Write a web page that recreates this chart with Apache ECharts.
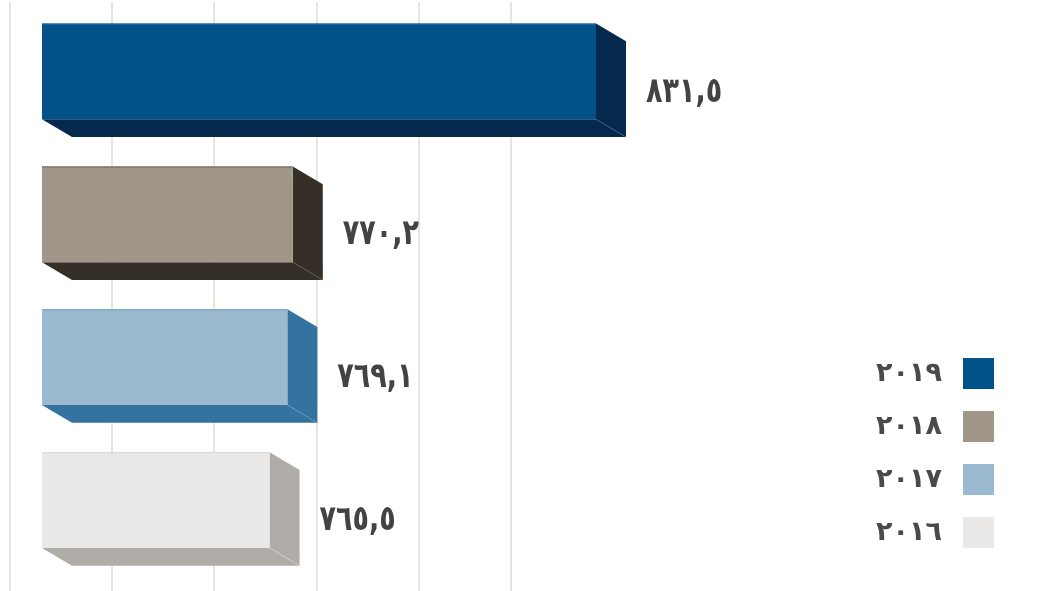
<!DOCTYPE html>
<html>
<head>
<meta charset="utf-8">
<script src="https://cdn.jsdelivr.net/npm/echarts@6/dist/echarts.min.js"></script>
<style>
html,body{margin:0;padding:0;background:#ffffff;}
#chart{width:1044px;height:591px;}
</style>
</head>
<body>
<div id="chart"></div>
<script>
// ---- data ----
const years = ['٢٠١٩', '٢٠١٨', '٢٠١٧', '٢٠١٦'];
const values = [831.5, 770.2, 769.1, 765.5];
const gridTicks = { min: 710, max: 808, interval: 20 };   // back-wall gridlines (no labels shown)
const barBase = 719.5;                                     // where the bars start

// ---- styles ----
const frontColors = ['#025188', '#a09788', '#9bbacf', '#eae9e7'];
const sideColors  = ['#04294d', '#352f27', '#34739f', '#b0ada8'];
const edgeColors  = ['#2f6f9f', '#6a6258', '#6c9cc0', '#d8d6d2'];
const DX = 30, DY = 17.7;

function toArabicDigits(v) {
  const d = '٠١٢٣٤٥٦٧٨٩';
  return v.toFixed(1).replace(/[0-9]/g, c => d[+c]).replace('.', ',');
}

const chart = echarts.init(document.getElementById('chart'), null, {renderer: 'canvas'});

function makeRender(i) {
  return function (params, api) {
    const v = api.value(0), c = api.value(1);
    const p0 = api.coord([barBase, c]);
    const p1 = api.coord([v, c]);
    const band = api.size([0, 1])[1];
    const h = band * 0.67;
    const y0 = p0[1] - h / 2, y1 = p0[1] + h / 2;
    const x0 = p0[0], x1 = p1[0];
    return {
      type: 'group',
      children: [
        {type: 'polygon', shape: {points: [[x0, y1], [x1, y1], [x1 + DX, y1 + DY], [x0 + DX, y1 + DY]]}, style: {fill: sideColors[i]}},
        {type: 'polygon', shape: {points: [[x1, y0], [x1 + DX, y0 + DY], [x1 + DX, y1 + DY], [x1, y1]]}, style: {fill: sideColors[i]}},
        {type: 'rect', shape: {x: x0, y: y0, width: x1 - x0, height: h}, style: {fill: frontColors[i]}},
        {type: 'line', shape: {x1: x0, y1: y0 + 0.5, x2: x1, y2: y0 + 0.5}, style: {stroke: edgeColors[i], lineWidth: 1}},
        {type: 'line', shape: {x1: x1, y1: y1, x2: x1 + DX, y2: y1 + DY}, style: {stroke: edgeColors[i], lineWidth: 0.7}},
        {type: 'text', x: x1 + DX + 20, y: p0[1] + 21, scaleY: 1.3,
          style: {text: toArabicDigits(v), fill: '#434343', font: 'bold 27px "DejaVu Sans"', verticalAlign: 'middle', align: 'left'}}
      ]
    };
  };
}

const series = years.map((name, i) => ({
  type: 'custom',
  name: name,
  xAxisIndex: 1,
  yAxisIndex: 1,
  renderItem: makeRender(i),
  itemStyle: {color: frontColors[i]},
  encode: {x: 0, y: 1},
  data: [[values[i], i]],
  silent: true,
  animation: false
}));

const option = {
  backgroundColor: '#ffffff',
  animation: false,
  grid: [
    {left: 9.3, width: 501.4, top: 2, bottom: 0, containLabel: false},
    {left: 42, width: 554, top: -4.5, height: 576, containLabel: false}
  ],
  xAxis: [
    {gridIndex: 0, type: 'value', min: gridTicks.min, max: gridTicks.max, interval: gridTicks.interval,
      axisLabel: {show: false}, axisLine: {show: false}, axisTick: {show: false},
      splitLine: {show: true, lineStyle: {color: '#e3dfda', width: 1.6}}},
    {gridIndex: 1, type: 'value', min: barBase, max: 'dataMax',
      axisLabel: {show: false}, axisLine: {show: false}, axisTick: {show: false}, splitLine: {show: false}}
  ],
  yAxis: [
    {gridIndex: 0, type: 'value', show: false, splitLine: {show: false}},
    {gridIndex: 1, type: 'category', data: years, inverse: true, show: false,
      axisLine: {show: false}, axisTick: {show: false}, axisLabel: {show: false}}
  ],
  legend: {
    orient: 'vertical',
    right: 45,
    top: 353,
    align: 'right',
    itemWidth: 31,
    itemHeight: 31,
    itemGap: 22,
    icon: 'rect',
    data: years,
    textStyle: {fontSize: 27, fontWeight: 'bold', color: '#4a4a4a', fontFamily: 'DejaVu Sans', padding: [0, 16, 0, 0]},
    selectedMode: false
  },
  series: series
};

chart.setOption(option);
</script>
</body>
</html>
